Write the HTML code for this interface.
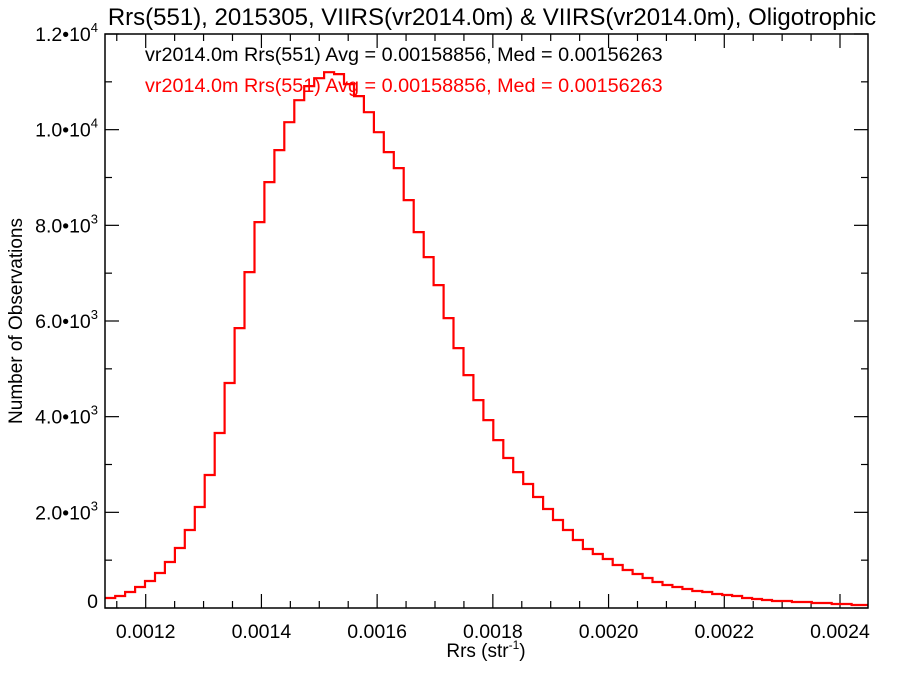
<!DOCTYPE html>
<html><head><meta charset="utf-8"><style>
body{margin:0;background:#fff}
svg text{font-family:"Liberation Sans",Helvetica,Arial,sans-serif}
</style></head><body>
<svg id="chart" width="900" height="675" viewBox="0 0 900 675" xmlns="http://www.w3.org/2000/svg">
<rect width="900" height="675" fill="#fff"/>
<text x="492" y="25" font-size="24" text-anchor="middle">Rrs(551), 2015305, VIIRS(vr2014.0m) &amp; VIIRS(vr2014.0m), Oligotrophic</text>
<text x="145" y="61" font-size="19.8" fill="#000">vr2014.0m Rrs(551) Avg = 0.00158856, Med = 0.00156263</text>
<text x="486" y="657" font-size="19" text-anchor="middle">Rrs (str<tspan font-size="12" dy="-8">-1</tspan><tspan dy="8">)</tspan></text>
<text transform="translate(22,321) rotate(-90)" font-size="19" text-anchor="middle">Number of Observations</text>
<g id="axes"></g>
<path id="hist" fill="none" stroke="#ff0000" stroke-width="2.2"/>
<text x="145" y="92" font-size="19.8" fill="#ff0000">vr2014.0m Rrs(551) Avg = 0.00158856, Med = 0.00156263</text>
<rect x="105" y="34" width="763" height="574" fill="none" stroke="#000" stroke-width="1.5"/>
</svg>
<script>
const binStart = 0.00113;
const binWidth = 0.0000172;
const counts = [209,251,334,439,564,732,961,1254,1630,2111,2780,3658,4703,5852,7022,8067,8903,9572,10157,10617,10910,11077,11202,11161,10952,10701,10366,9948,9530,9196,8527,7858,7336,6751,6061,5434,4870,4347,3929,3511,3135,2842,2592,2320,2069,1839,1630,1421,1233,1129,1024,899,794,711,627,543,481,439,397,355,334,293,272,251,209,188,167,146,146,125,125,104,104,84,84,63,63];
const xTicks = [0.0012,0.0014,0.0016,0.0018,0.0020,0.0022,0.0024];
const xTickLabels = ["0.0012","0.0014","0.0016","0.0018","0.0020","0.0022","0.0024"];
const yTicks = [0,2000,4000,6000,8000,10000,12000];
const yTickMantissa = ["0","2.0","4.0","6.0","8.0","1.0","1.2"];
const yTickExp = ["","3","3","3","3","4","4"];

const L=105,R=868,T=34,B=608;
const xMin=0.00112965, xMax=0.0024484, yMax=12000;
const xs=v=>L+(v-xMin)/(xMax-xMin)*(R-L);
const ys=v=>B-v/yMax*(B-T);
const NS="http://www.w3.org/2000/svg";
const ax=document.getElementById('axes');
function line(x1,y1,x2,y2,name){const l=document.createElementNS(NS,'line');
l.setAttribute('x1',x1);l.setAttribute('y1',y1);l.setAttribute('x2',x2);l.setAttribute('y2',y2);
l.setAttribute('stroke','#000');l.setAttribute('stroke-width','1.2');


ax.appendChild(l);}
for(let v=0.00115;v<xMax;v+=0.00005){const x=xs(v);if(x<L||x>R)continue;
const major=xTicks.some(t=>Math.abs(t-v)<1e-9);const len=major?14:7;
line(x,B,x,B-len,'x-tick');line(x,T,x,T+len,'x-tick-top');}
xTicks.forEach((v,i)=>{const t=document.createElementNS(NS,'text');
t.setAttribute('x',xs(v));t.setAttribute('y',B+30);t.setAttribute('font-size','19.5');t.setAttribute('text-anchor','middle');
t.textContent=xTickLabels[i];


ax.appendChild(t);});
for(let v=0;v<=yMax;v+=1000){const y=ys(v);const major=v%2000===0;const len=major?14:7;
line(L,y,L+len,y,'y-tick');line(R,y,R-len,y,'y-tick-right');}
yTicks.forEach((v,i)=>{const t=document.createElementNS(NS,'text');
t.setAttribute('x',L-7);t.setAttribute('y',ys(v)+(i===0?0:7));t.setAttribute('font-size','19.5');t.setAttribute('text-anchor','end');
if(yTickExp[i]){t.innerHTML=yTickMantissa[i]+'•10<tspan font-size="13" dy="-9">'+yTickExp[i]+'</tspan>';}
else{t.textContent=yTickMantissa[i];}


ax.appendChild(t);});
let d='';
counts.forEach((c,i)=>{let x0=Math.max(L,xs(binStart+i*binWidth)),x1=Math.min(R,xs(binStart+(i+1)*binWidth));const y=ys(c);
d+=(i===0?'M':'L')+x0.toFixed(1)+','+y.toFixed(1)+'L'+x1.toFixed(1)+','+y.toFixed(1);});
document.getElementById('hist').setAttribute('d',d);
</script>
</body></html>
